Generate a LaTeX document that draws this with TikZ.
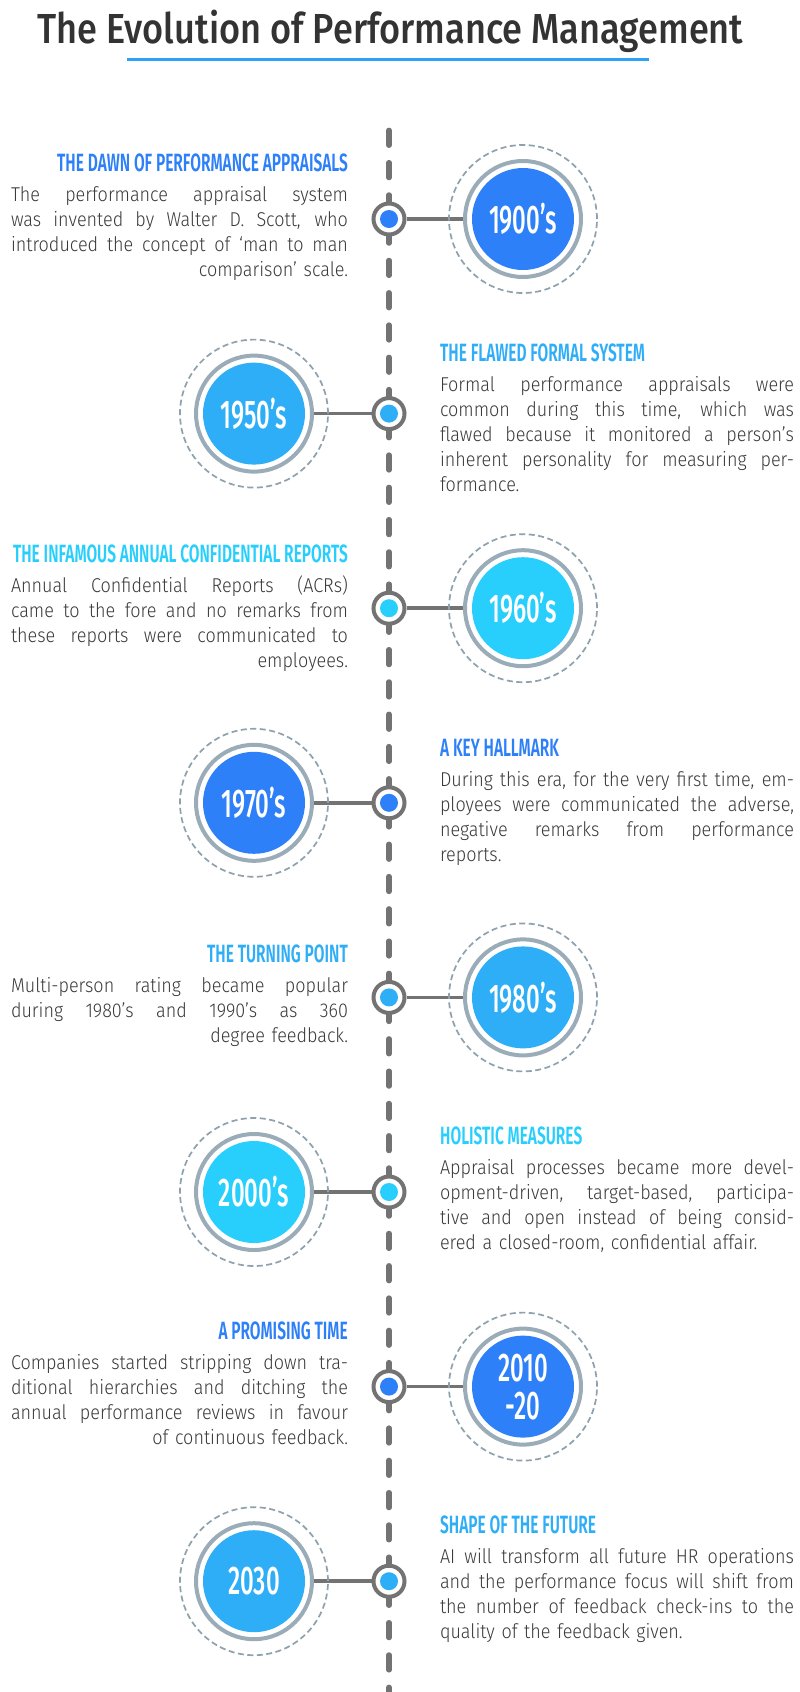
\documentclass[tikz,border=0pt]{standalone}
\usepackage{fontspec}
\setmainfont{Fira Sans Light}[FakeStretch=0.9]
\newfontfamily\titlefont{Fira Sans Medium}[FakeStretch=0.86]
\newfontfamily\headfont{Fira Sans SemiBold}[FakeStretch=0.62]
\newfontfamily\yearfont{Fira Sans Medium}[FakeStretch=0.6]

\definecolor{royal}{HTML}{2D80F8}
\definecolor{sky}{HTML}{2FAEF8}
\definecolor{cyanb}{HTML}{28CFFD}
\definecolor{ringgray}{HTML}{9AACB7}
\definecolor{halogray}{HTML}{8DA2AE}
\definecolor{linegray}{HTML}{737373}
\definecolor{bodytext}{HTML}{3A3A3A}
\definecolor{titletext}{HTML}{333333}
\definecolor{accent}{HTML}{2AA2F5}

% one justified line of a text column (spaces stretch to fill the column)
\newcommand\jl[1]{\makebox[\hsize][s]{\spaceskip=0.26em plus 10em minus 0.09em\relax #1}\\}
\newcommand\firstline{\rule{0pt}{18pt}}

\tikzset{
  tl/.style={linegray, line width=5.5pt, line cap=round, dash pattern=on 14.8pt off 17.5pt},
  stubline/.style={linegray, line width=5.5pt, line cap=round},
  yearbub/.style={circle, fill=#1, minimum size=102pt, inner sep=0pt, outer sep=0pt,
    text=white, font=\yearfont\fontsize{40}{38}\selectfont, align=center},
  dotring/.style={circle, draw=linegray, line width=4pt, fill=white, minimum size=31pt, inner sep=0pt},
  conn/.style={linegray, line width=3.5pt, shorten >=6pt},
  ring/.style={ringgray, line width=4pt},
  halo/.style={halogray, line width=1.7pt, dash pattern=on 6pt off 3.5pt},
  headL/.style={anchor=base east, inner sep=0pt, font=\headfont\fontsize{25}{25}\selectfont},
  headR/.style={anchor=base west, inner sep=0pt, font=\headfont\fontsize{25}{25}\selectfont},
  body/.style={anchor=north west, align=left, inner sep=0pt, outer sep=0pt,
    font=\fontsize{20}{25}\selectfont, text=bodytext},
  bodyL/.style={body, text width=337pt},
  bodyR/.style={body, text width=354pt},
}

\begin{document}
\begin{tikzpicture}[x=1pt, y=-1pt]
\path[use as bounding box, fill=white] (0,0) rectangle (800,1692);

% title and underline
\node[anchor=base, inner sep=0pt, text=titletext, font=\titlefont\fontsize{42}{42}\selectfont]
  (title) at (390.5,43) {The Evolution of Performance Management};
\draw[accent, line width=3pt] (127,59) -- (649,59);

% timeline anchor points
\foreach \k/\c in {1/219,2/413.6,3/608.2,4/802.8,5/997.4,6/1192,7/1386.6,8/1581.2}
  \coordinate (p\k) at (389,\c);

% dashed timeline between the stations
\draw[tl] (389,177.5) -- (389,118);
\foreach \a/\b in {219/413.6,413.6/608.2,608.2/802.8,802.8/997.4,997.4/1192,1192/1386.6,1386.6/1581.2}
  \draw[tl] (389,\a+41.5) -- (389,\b-41.5);
\draw[tl] (389,1622.7) -- (389,1700);
\foreach \k in {1,...,8}
  \draw[stubline] ([yshift=-24pt]p\k) -- ([yshift=24pt]p\k);

% stations: year bubble, timeline dot, connector, rings
\foreach \k/\bx/\col/\lab in {1/523/royal/1900’s, 2/254/sky/1950’s, 3/523/cyanb/1960’s,
    4/254/royal/1970’s, 5/523/sky/1980’s, 6/254/cyanb/2000’s, 7/523/royal/{2010\\-20}, 8/254/sky/2030}{
  \node[yearbub=\col] (y\k) at (p\k -| \bx,0) {\lab};
  \node[dotring] (d\k) at (p\k) {};
  \fill[\col] (d\k.center) circle[radius=9pt];
  \draw[conn] (d\k) -- (y\k);
  \draw[ring] (y\k.center) circle[radius=58pt];
  \draw[halo] (y\k.center) circle[radius=74pt];
}

% 1900's
\node[headL, text=royal] (h1) at (348,171) {THE DAWN OF PERFORMANCE APPRAISALS};
\node[bodyL] (t1) at (11,183) {\firstline\jl{The performance appraisal system}%
  \jl{was invented by Walter D. Scott, who}%
  \jl{introduced the concept of ‘man to man}%
  \makebox[\hsize][r]{comparison’ scale.}};

% 1950's
\node[headR, text=sky] (h2) at (440,361) {THE FLAWED FORMAL SYSTEM};
\node[bodyR] (t2) at (440,373) {\firstline\jl{Formal performance appraisals were}%
  \jl{common during this time, which was}%
  \jl{flawed because it monitored a person’s}%
  \jl{inherent personality for measuring per-}%
  formance.};

% 1960's
\node[headL, text=cyanb] (h3) at (348,562) {THE INFAMOUS ANNUAL CONFIDENTIAL REPORTS};
\node[bodyL] (t3) at (11,574) {\firstline\jl{Annual Confidential Reports (ACRs)}%
  \jl{came to the fore and no remarks from}%
  \jl{these reports were communicated to}%
  \makebox[\hsize][r]{employees.}};

% 1970's
\node[headR, text=royal] (h4) at (440,756) {A KEY HALLMARK};
\node[bodyR] (t4) at (440,768) {\firstline\jl{During this era, for the very first time, em-}%
  \jl{ployees were communicated the adverse,}%
  \jl{negative remarks from performance}%
  reports.};

% 1980's
\node[headL, text=sky] (h5) at (348,962) {THE TURNING POINT};
\node[bodyL] (t5) at (11,974) {\firstline\jl{Multi-person rating became popular}%
  \jl{during 1980’s and 1990’s as 360}%
  \makebox[\hsize][r]{degree feedback.}};

% 2000's
\node[headR, text=cyanb] (h6) at (440,1144) {HOLISTIC MEASURES};
\node[bodyR] (t6) at (440,1156) {\firstline\jl{Appraisal processes became more devel-}%
  \jl{opment-driven, target-based, participa-}%
  \jl{tive and open instead of being consid-}%
  ered a closed-room, confidential affair.};

% 2010-20
\node[headL, text=royal] (h7) at (348,1339) {A PROMISING TIME};
\node[bodyL] (t7) at (11,1351) {\firstline\jl{Companies started stripping down tra-}%
  \jl{ditional hierarchies and ditching the}%
  \jl{annual performance reviews in favour}%
  \makebox[\hsize][r]{of continuous feedback.}};

% 2030
\node[headR, text=sky] (h8) at (440,1533) {SHAPE OF THE FUTURE};
\node[bodyR] (t8) at (440,1545) {\firstline\jl{AI will transform all future HR operations}%
  \jl{and the performance focus will shift from}%
  \jl{the number of feedback check-ins to the}%
  quality of the feedback given.};
\end{tikzpicture}
\end{document}
